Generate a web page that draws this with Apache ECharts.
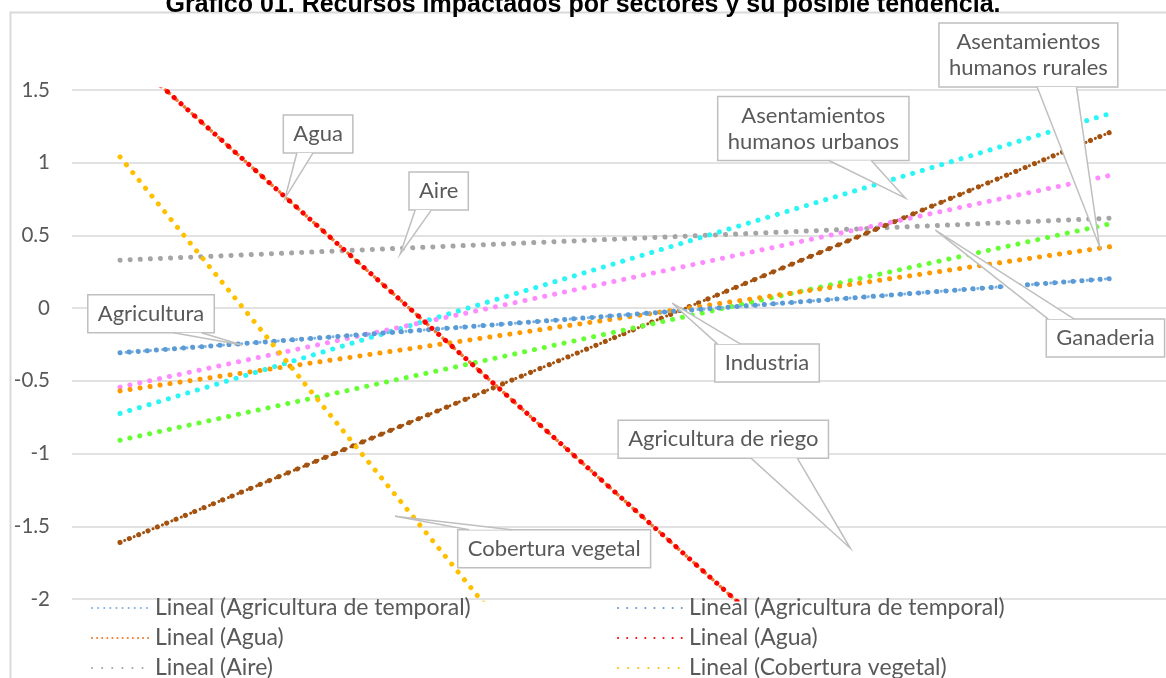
<!DOCTYPE html>
<html lang="es">
<head>
<meta charset="UTF-8">
<title>Gráfico 01</title>
<script src="https://cdn.jsdelivr.net/npm/echarts@6/dist/echarts.min.js"></script>
<style>
  html, body { margin: 0; padding: 0; background: #fff; }
  #chart { width: 1166px; height: 678px; }
</style>
</head>
<body>
<div id="chart"></div>
<script>
// extremos de cada linea de tendencia (inicio y fin del periodo)
var xEnds = [0, 10];
var agriTemporal = [-0.307, 0.204];
var agua = [1.781, -4.32];
var aire = [0.33, 0.619];
var cobertura = [1.04, -7.33];
var urbanos = [-0.724, 1.341];
var riego = [-1.611, 1.213];
var ganaderia = [-0.543, 0.915];
var industria = [-0.908, 0.582];
var rurales = [-0.569, 0.424];

var yTicks = { min: -2, max: 1.5, step: 0.5 };

// etiquetas (texto, punto al que apuntan, centro del recuadro) en unidades de datos
var calloutText = ['Agua', 'Aire', 'Agricultura', 'Asentamientos\nhumanos urbanos', 'Asentamientos\nhumanos rurales',
  'Ganaderia', 'Industria', 'Agricultura de riego', 'Cobertura vegetal'];
var calloutTarget = [[1.665, 0.757], [2.825, 0.371], [1.231, -0.254], [7.921, 0.757], [9.879, 0.426],
  [8.224, 0.536], [5.570, 0.034], [7.366, -1.651], [2.775, -1.431]];
var calloutBox = [[1.998, 1.197], [3.214, 0.805], [0.313, -0.038], [6.993, 1.235], [9.162, 1.740],
  [9.939, -0.206], [6.526, -0.378], [6.085, -0.901], [4.379, -1.654]];

var legendLeft = ['Lineal (Agricultura de temporal)', 'Lineal (Agua)', 'Lineal (Aire)'];
var legendRight = ['Lineal (Agricultura de temporal)\u00a0', 'Lineal (Agua)\u00a0', 'Lineal (Cobertura vegetal)'];

var FONT = 'Lato';
var TXT = '#595959';
var CALLOUT_FONT = '22px ' + FONT;

function pts(vals) {
  return vals.map(function (v, i) { return [xEnds[i], v]; });
}

function trend(name, vals, color, width, gap, z) {
  return {
    name: name,
    type: 'line',
    data: pts(vals),
    symbol: 'none',
    silent: true,
    z: z || 2,
    lineStyle: { color: color, width: width, type: [0.1, gap], cap: 'round' },
    itemStyle: { color: color, opacity: 0 }
  };
}

var measureCtx = document.createElement('canvas').getContext('2d');
measureCtx.font = CALLOUT_FONT;

function renderCallout(params, api) {
  var i = params.dataIndex;
  var p = api.coord([api.value(0), api.value(1)]);
  var c = api.coord([api.value(2), api.value(3)]);
  var lines = calloutText[i].split('\n');
  var tw = 0;
  lines.forEach(function (l) { tw = Math.max(tw, measureCtx.measureText(l).width); });
  var w = tw + 20, h = lines.length * 26 + 12;
  var left = c[0] - w / 2, top = c[1] - h / 2, right = left + w, bottom = top + h;
  var half = Math.max(8, w * 0.11);
  var bx = c[0] + (p[0] - c[0]) * 0.4;
  bx = Math.min(Math.max(bx, left + half + 2), right - half - 2);
  var by = p[1] > bottom ? bottom : top;
  var a = [bx - half, by], b = [bx + half, by];
  var stroke = '#BFBFBF';
  return {
    type: 'group',
    children: [
      { type: 'rect', shape: { x: left, y: top, width: w, height: h },
        style: { fill: '#fff', stroke: stroke, lineWidth: 1.5 } },
      { type: 'polygon', shape: { points: [a, p, b] }, style: { fill: '#fff', stroke: null } },
      { type: 'polyline', shape: { points: [a, p, b] }, style: { fill: null, stroke: stroke, lineWidth: 1.5 } },
      { type: 'text', x: c[0], y: c[1],
        style: { text: calloutText[i], fill: TXT, font: CALLOUT_FONT, align: 'center', verticalAlign: 'middle', lineHeight: 26 } }
    ]
  };
}

var calloutData = calloutTarget.map(function (t, i) {
  return [t[0], t[1], calloutBox[i][0], calloutBox[i][1]];
});

var legendText = { color: TXT, fontSize: 23, fontFamily: FONT, lineHeight: 24 };

var chart = echarts.init(document.getElementById('chart'));
var option = {
  animation: false,
  title: {
    text: 'Gráfico 01. Recursos impactados por sectores y su posible tendencia.',
    left: 'center',
    top: -12,
    textStyle: { fontFamily: 'Liberation Sans', fontWeight: 'bold', fontSize: 25, color: '#000' }
  },
  graphic: [{
    type: 'rect', left: 8, top: 10, silent: true, z: -1,
    shape: { width: 1200, height: 720 },
    style: { fill: null, stroke: '#D9D9D9', lineWidth: 2 }
  }],
  grid: { left: 72, right: 0, top: 90, bottom: 79 },
  xAxis: { type: 'value', min: -0.484, max: 10.55, show: false },
  yAxis: {
    type: 'value', min: yTicks.min, max: yTicks.max, interval: yTicks.step,
    axisLine: { show: false }, axisTick: { show: false },
    axisLabel: { color: TXT, fontSize: 20.5, fontFamily: FONT, margin: 22 },
    splitLine: { lineStyle: { color: '#D9D9D9', width: 1.5 } }
  },
  legend: [{
    left: 86, top: 591, height: 140, orient: 'vertical', itemGap: 6, itemWidth: 58, itemHeight: 24,
    textStyle: legendText,
    data: legendLeft
  }, {
    left: 612, top: 591, height: 140, orient: 'vertical', itemGap: 6, itemWidth: 66, itemHeight: 24,
    textStyle: legendText,
    data: legendRight
  }],
  series: [
    trend('Lineal (Aire)', aire, '#A5A5A5', 5, 10),
    trend('Lineal (Asentamientos humanos urbanos)', urbanos, '#2BF5F5', 5, 10),
    trend('Lineal (Agricultura de riego)', riego, '#A3520F', 5, 10),
    trend('Lineal (Agricultura de riego)\u00a0', riego, '#A3520F', 3, 5),
    trend('Lineal (Ganaderia)', ganaderia, '#FF8CFF', 5, 10),
    trend('Lineal (Industria)', industria, '#66FF33', 5, 10),
    trend('Lineal (Asentamientos humanos rurales)', rurales, '#FF9900', 5, 10),
    trend('Lineal (Agricultura de temporal)', agriTemporal, '#7FB2E5', 3, 6),
    trend('Lineal (Agricultura de temporal)\u00a0', agriTemporal, '#5B9BD5', 5, 9, 3),
    trend('Lineal (Agua)', agua, '#ED7D31', 3.5, 5),
    trend('Lineal (Agua)\u00a0', agua, '#FF0000', 5, 9, 3),
    trend('Lineal (Cobertura vegetal)', cobertura, '#FFC000', 5, 10, 3),
    {
      type: 'custom',
      name: 'etiquetas',
      data: calloutData,
      renderItem: renderCallout,
      clip: false,
      silent: true,
      z: 10
    }
  ]
};
chart.setOption(option);
</script>
</body>
</html>
